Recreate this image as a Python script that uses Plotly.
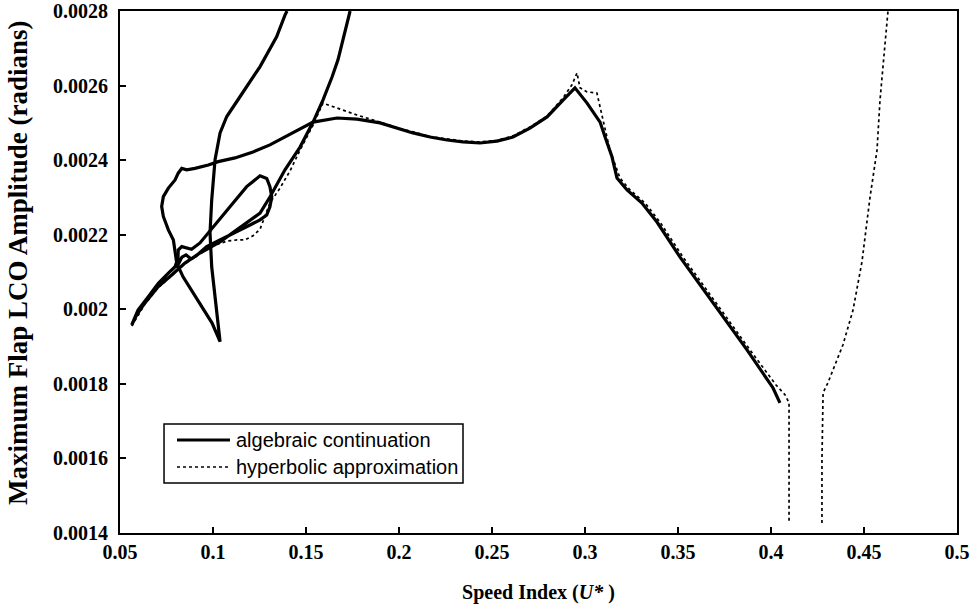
import plotly.graph_objects as go

# ---- data ----
# algebraic continuation (solid) - two branches separated by None
alg_x = [
    0.1398, 0.1387, 0.1342, 0.1253, 0.1145, 0.1074, 0.1038, 0.1011, 0.0993, 0.0984,
    0.0993, 0.1011, 0.1028, 0.1038, 0.0995, 0.0941, 0.0887, 0.0839, 0.0805, 0.0787,
    0.0760, 0.0733, 0.0724, 0.0733, 0.0760, 0.0796, 0.0813, 0.0832, 0.0859, 0.0903,
    0.0975, 0.1028, 0.1118, 0.1215, 0.1306, 0.1414, 0.1538, 0.1667, 0.1774, 0.1898,
    0.1989, 0.2075, 0.2167, 0.2258, 0.2344, 0.2435, 0.2527, 0.2613, 0.2704, 0.2796,
    0.2882, 0.2946, 0.3011, 0.3081, 0.3108,
    0.3145, 0.3172, 0.3226, 0.3306, 0.3387, 0.3511, 0.3688, 0.3871, 0.4011, 0.4048,
    None,
    0.1737, 0.1672, 0.1640, 0.1591, 0.1538, 0.1468, 0.1387, 0.1306, 0.1253, 0.1145,
    0.1038, 0.0930, 0.0849, 0.0778, 0.0706, 0.0634, 0.0590, 0.0563, 0.0597, 0.0651,
    0.0706, 0.0760, 0.0796, 0.0812, 0.0813, 0.0832, 0.0859, 0.0885, 0.0930, 0.1022,
    0.1108, 0.1181, 0.1226, 0.1253, 0.1289, 0.1306, 0.1316, 0.1306, 0.1289, 0.1253,
    0.1199, 0.1109, 0.1038, 0.0966, 0.0909, 0.0882, 0.0855, 0.0833, 0.0817, 0.0801,
]
alg_y = [
    0.002800, 0.002789, 0.002731, 0.002651, 0.002570, 0.002517, 0.002473, 0.002401, 0.002293, 0.002205,
    0.002114, 0.002025, 0.001954, 0.001913, 0.001963, 0.002006, 0.002052, 0.002087, 0.002124, 0.002186,
    0.002213, 0.002249, 0.002276, 0.002302, 0.002325, 0.002347, 0.002365, 0.002378, 0.002374, 0.002378,
    0.002387, 0.002396, 0.002406, 0.002422, 0.002441, 0.002470, 0.002502, 0.002513, 0.002510, 0.002500,
    0.002486, 0.002473, 0.002462, 0.002454, 0.002449, 0.002446, 0.002451, 0.002462, 0.002486, 0.002516,
    0.002561, 0.002594, 0.002553, 0.002502, 0.002462,
    0.002409, 0.002352, 0.002320, 0.002285, 0.002234, 0.002140, 0.002017, 0.001891, 0.001789, 0.001749,
    None,
    0.002800, 0.002669, 0.002623, 0.002561, 0.002502, 0.002435, 0.002374, 0.002301, 0.002258, 0.002218,
    0.002181, 0.002151, 0.002124, 0.002092, 0.002061, 0.002017, 0.001985, 0.001958, 0.001998, 0.002033,
    0.002070, 0.002097, 0.002114, 0.002138, 0.002159, 0.002168, 0.002165, 0.002161, 0.002178, 0.002232,
    0.002285, 0.002329, 0.002347, 0.002358, 0.002351, 0.002329, 0.002302, 0.002275, 0.002253, 0.002240,
    0.002226, 0.002204, 0.002186, 0.002168, 0.002143, 0.002135, 0.002146, 0.002140, 0.002124, 0.002111,
]

# hyperbolic approximation (dotted) - two pieces separated by None
hyp_x = [
    0.0563, 0.0634, 0.0704, 0.0780, 0.0849, 0.0930, 0.1000, 0.1075, 0.1129, 0.1172,
    0.1215, 0.1253, 0.1269, 0.1285, 0.1306, 0.1360, 0.1414, 0.1468, 0.1538, 0.1591,
    0.1667, 0.1774, 0.1898, 0.1989, 0.2075, 0.2167, 0.2258, 0.2344, 0.2435, 0.2527,
    0.2613, 0.2704, 0.2796, 0.2882, 0.2930,
    0.2957, 0.2973, 0.3011, 0.3064, 0.3081, 0.3097, 0.3134, 0.3188, 0.3242, 0.3323,
    0.3403, 0.3527, 0.3704, 0.3887, 0.4027, 0.4075, 0.4097, 0.4097, 0.4097,
    None,
    0.4274, 0.4274, 0.4280, 0.4306, 0.4387, 0.4441, 0.4489, 0.4532, 0.4570, 0.4586,
    0.4602, 0.4618, 0.4629,
]
hyp_y = [
    0.001955, 0.002014, 0.002057, 0.002090, 0.002122, 0.002149, 0.002170, 0.002183, 0.002186, 0.002186,
    0.002197, 0.002215, 0.002237, 0.002261, 0.002285, 0.002325, 0.002371, 0.002427, 0.002494, 0.002553,
    0.002540, 0.002521, 0.002502, 0.002487, 0.002476, 0.002463, 0.002457, 0.002451, 0.002449, 0.002453,
    0.002465, 0.002489, 0.002518, 0.002567, 0.002602,
    0.002634, 0.002594, 0.002583, 0.002580, 0.002543, 0.002500, 0.002427, 0.002352, 0.002320, 0.002285,
    0.002234, 0.002140, 0.002017, 0.001891, 0.001797, 0.001771, 0.001749, 0.001712, 0.001427,
    None,
    0.001427, 0.001596, 0.001776, 0.001803, 0.001905, 0.001998, 0.002127, 0.002299, 0.002427, 0.002561,
    0.002650, 0.002736, 0.002800,
]

x_ticks = [0.05, 0.1, 0.15, 0.2, 0.25, 0.3, 0.35, 0.4, 0.45, 0.5]
x_tick_text = ["0.05", "0.1", "0.15", "0.2", "0.25", "0.3", "0.35", "0.4", "0.45", "0.5"]
y_ticks = [0.0014, 0.0016, 0.0018, 0.002, 0.0022, 0.0024, 0.0026, 0.0028]
y_tick_text = ["0.0014", "0.0016", "0.0018", "0.002", "0.0022", "0.0024", "0.0026", "0.0028"]

legend_names = ["algebraic continuation", "hyperbolic approximation"]
x_title = "Speed Index (<i>U*</i> )"
y_title = "Maximum Flap LCO Amplitude (radians)"

serif = "Liberation Serif"

fig = go.Figure()
fig.add_trace(go.Scatter(
    x=alg_x, y=alg_y, mode="lines", name=legend_names[0],
    line=dict(color="black", width=3.2), connectgaps=False, showlegend=False,
))
fig.add_trace(go.Scatter(
    x=hyp_x, y=hyp_y, mode="lines", name=legend_names[1],
    line=dict(color="black", width=1.7, dash="dot"), connectgaps=False, showlegend=False,
))

# custom legend box (paper coordinates)
shapes = [
    dict(type="rect", xref="paper", yref="paper", x0=0.0526, x1=0.4098, y0=0.0958, y1=0.2088,
         line=dict(color="black", width=1.5), fillcolor="white", layer="above"),
    dict(type="line", xref="paper", yref="paper", x0=0.0681, x1=0.1314, y0=0.1782, y1=0.1782,
         line=dict(color="black", width=3.2), layer="above"),
    dict(type="line", xref="paper", yref="paper", x0=0.0681, x1=0.1314, y0=0.1264, y1=0.1264,
         line=dict(color="black", width=1.7, dash="dot"), layer="above"),
]
annotations = [
    dict(xref="paper", yref="paper", x=0.136, y=0.1782, text=legend_names[0], showarrow=False,
         xanchor="left", yanchor="middle",
         font=dict(family="Liberation Sans", size=20, color="black")),
    dict(xref="paper", yref="paper", x=0.136, y=0.1264, text=legend_names[1], showarrow=False,
         xanchor="left", yanchor="middle",
         font=dict(family="Liberation Sans", size=20, color="black")),
    dict(xref="paper", yref="paper", x=-0.1219, y=0.519, text=y_title, showarrow=False,
         textangle=-90, xanchor="center", yanchor="middle",
         font=dict(family=serif, size=27, color="black", weight="bold")),
]

fig.update_layout(
    width=975, height=609,
    margin=dict(l=120, r=18, t=11, b=76),
    paper_bgcolor="white", plot_bgcolor="white",
    showlegend=False,
    shapes=shapes, annotations=annotations,
    xaxis=dict(
        range=[0.05, 0.5], tickvals=x_ticks, ticktext=x_tick_text,
        ticks="inside", ticklen=6, tickwidth=1.5, tickcolor="black",
        showline=True, linecolor="black", linewidth=2, mirror=True,
        showgrid=False, zeroline=False, automargin=False,
        tickfont=dict(family=serif, size=20, color="black", weight="bold"),
        title=dict(text=x_title, standoff=23,
                   font=dict(family=serif, size=20, color="black", weight="bold")),
    ),
    yaxis=dict(
        range=[0.0014, 0.0028], tickvals=y_ticks, ticktext=y_tick_text,
        ticks="inside", ticklen=6, tickwidth=1.5, tickcolor="black",
        showline=True, linecolor="black", linewidth=2, mirror=True,
        showgrid=False, zeroline=False, automargin=False, ticklabelstandoff=6,
        tickfont=dict(family=serif, size=20, color="black", weight="bold"),
    ),
)

fig.write_html("out.html")
